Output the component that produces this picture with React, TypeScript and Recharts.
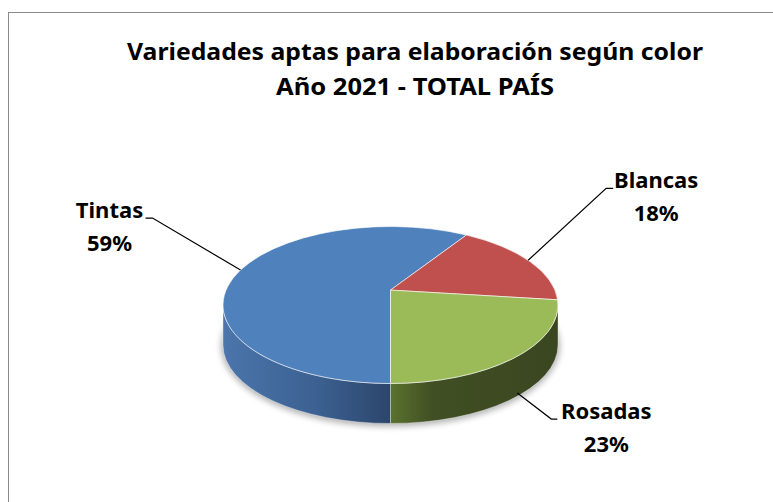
import { PieChart, Pie } from "recharts";

// chart data
const categories = ["Tintas", "Blancas", "Rosadas"];
const shares = [59, 18, 23];
const percentLabels = ["59%", "18%", "23%"];
const titleLines = [
  "Variedades aptas para elaboración según color",
  "Año 2021 - TOTAL PAÍS",
];

const data = categories.map((name, i) => ({ name, value: shares[i] }));

// styling
const topColors = ["#4f81bd", "#c0504d", "#9bbb59"];
const wallColors = [
  ["#4b75ab", "#3c6192", "#2c466c"],
  ["#9a403d", "#7e3230", "#692826"],
  ["#5a722f", "#414f24", "#3a4620"],
];

const W = 773;
const H = 502;
const CX = 390.5;
const CY = 305;
const R = 167.5;
const TILT = 0.4687; // vertical squash of the top face
const LIFT = 0.19; // perspective: pie centre sits toward the back
const DEPTH = 40;
const FONT = "'Noto Sans', 'Open Sans', sans-serif";

// leader lines: elbow offset from the slice edge, horizontal run, text centre offset
const leaders = [
  { dx: -88, dy: -52, run: -7, textDx: -36 },
  { dx: 78, dy: -72, run: 7, textDx: 43 },
  { dx: 34, dy: 26, run: 6, textDx: 49 },
];

// perspective projection of a point on the rim (angle in degrees, y up)
function project(cx: number, cy: number, rx: number, deg: number) {
  const ry = rx * TILT;
  const a = (deg * Math.PI) / 180;
  const g = 1 / Math.sqrt(1 - LIFT * LIFT);
  const d = 1 + LIFT * Math.sin(a);
  const xn = Math.cos(a) / (g * d);
  const yn = (Math.sin(a) + LIFT) / d;
  return { x: cx + rx * xn, y: cy - ry * yn, t: (Math.atan2(yn, xn) * 180) / Math.PI };
}

function rim(cx: number, cy: number, rx: number, t: number) {
  const a = (t * Math.PI) / 180;
  return { x: cx + rx * Math.cos(a), y: cy - rx * TILT * Math.sin(a) };
}

function renderSlice(props: any) {
  const { cx, cy, outerRadius, startAngle, endAngle, midAngle, index } = props;
  const rx = outerRadius;
  const ry = rx * TILT;
  const vx = cx;
  const vy = cy - ry * LIFT;

  const s = project(cx, cy, rx, startAngle);
  const e = project(cx, cy, rx, endAngle);
  const ts = s.t;
  let te = e.t;
  while (te >= ts) te -= 360;
  while (ts - te > 360) te += 360;
  const large = ts - te > 180 ? 1 : 0;
  const top = `M${vx},${vy} L${s.x},${s.y} A${rx},${ry} 0 ${large} 1 ${e.x},${e.y} Z`;

  // outer wall, only on the front half of the rim
  const walls: { d: string; x1: number; x2: number }[] = [];
  for (let k = -2; k <= 1; k++) {
    const hi = Math.min(ts, 360 * k);
    const lo = Math.max(te, -180 + 360 * k);
    if (hi - lo > 0.01) {
      const p1 = rim(cx, cy, rx, hi);
      const p2 = rim(cx, cy, rx, lo);
      const lg = hi - lo > 180 ? 1 : 0;
      walls.push({
        d: `M${p1.x},${p1.y} A${rx},${ry} 0 ${lg} 1 ${p2.x},${p2.y} L${p2.x},${p2.y + DEPTH} A${rx},${ry} 0 ${lg} 0 ${p1.x},${p1.y + DEPTH} Z`,
        x1: Math.min(p1.x, p2.x),
        x2: Math.max(p1.x, p2.x),
      });
    }
  }

  // leader line and label
  const m = project(cx, cy, rx, midAngle);
  const my = m.y > cy ? m.y + DEPTH * 0.92 : m.y;
  const ld = leaders[index];
  const ex = m.x + ld.dx;
  const ey = my + ld.dy;
  const endX = ex + ld.run;
  const tx = endX + ld.textDx;

  return (
    <g key={`slice-${index}`}>
      {index === 0 && (
        <g>
          <defs>
            <filter id="pie-shadow" x="-20%" y="-20%" width="140%" height="140%">
              <feGaussianBlur stdDeviation="3" />
            </filter>
          </defs>
          <ellipse
            cx={cx}
            cy={cy + DEPTH + 1}
            rx={rx + 2}
            ry={ry + 2}
            fill="#000"
            opacity={0.3}
            filter="url(#pie-shadow)"
          />
        </g>
      )}
      {walls.map((w, j) => (
        <g key={j}>
          <defs>
            <linearGradient id={`wall-${index}-${j}`} gradientUnits="userSpaceOnUse" x1={w.x1} y1={0} x2={w.x2} y2={0}>
              <stop offset="0" stopColor={wallColors[index][0]} />
              <stop offset={index === 2 ? "0.25" : "0.55"} stopColor={wallColors[index][1]} />
              <stop offset="1" stopColor={wallColors[index][2]} />
            </linearGradient>
          </defs>
          <path d={w.d} fill={`url(#wall-${index}-${j})`} stroke="#ffffff" strokeOpacity={0.45} strokeWidth={0.8} />
        </g>
      ))}
      <path d={top} fill={topColors[index]} stroke="#ffffff" strokeOpacity={0.7} strokeWidth={0.9} strokeLinejoin="round" />
      <polyline
        points={`${m.x},${my} ${ex},${ey} ${endX},${ey}`}
        fill="none"
        stroke="#000"
        strokeWidth={1.2}
      />
      <text x={tx} y={ey} textAnchor="middle" fontFamily={FONT} fontWeight="bold" fontSize={22} fill="#000">
        {categories[index]}
      </text>
      <text x={tx} y={ey + 33} textAnchor="middle" fontFamily={FONT} fontWeight="bold" fontSize={22} fill="#000">
        {percentLabels[index]}
      </text>
    </g>
  );
}

export default function App() {
  return (
    <div
      style={{
        position: "absolute",
        left: 0,
        top: 0,
        width: W,
        height: H,
        overflow: "hidden",
        background: "#ffffff",
      }}
    >
      <style>{`html, body { margin: 0; overflow: hidden; }`}</style>
      <div
        style={{
          position: "absolute",
          left: 8,
          top: 12,
          width: 820,
          height: 600,
          border: "1px solid #8a8a8a",
        }}
      />
      <div style={{ position: "absolute", left: 0, top: 0 }}>
        <PieChart width={W} height={H} margin={{ top: 0, right: 0, bottom: 0, left: 0 }}>
          <Pie
            data={data}
            dataKey="value"
            nameKey="name"
            cx={CX}
            cy={CY}
            outerRadius={R}
            startAngle={-90}
            endAngle={-450}
            fill="none"
            stroke="none"
            label={renderSlice}
            labelLine={false}
            isAnimationActive={false}
          />
        </PieChart>
      </div>
      <svg width={W} height={H} style={{ position: "absolute", left: 0, top: 0, pointerEvents: "none" }}>
        <text x={415} y={60} textAnchor="middle" fontFamily={FONT} fontWeight="bold" fontSize={24} textLength={576} lengthAdjust="spacingAndGlyphs" fill="#000">
          {titleLines[0]}
        </text>
        <text x={415} y={95} textAnchor="middle" fontFamily={FONT} fontWeight="bold" fontSize={24} textLength={278} lengthAdjust="spacingAndGlyphs" fill="#000">
          {titleLines[1]}
        </text>
      </svg>
    </div>
  );
}
